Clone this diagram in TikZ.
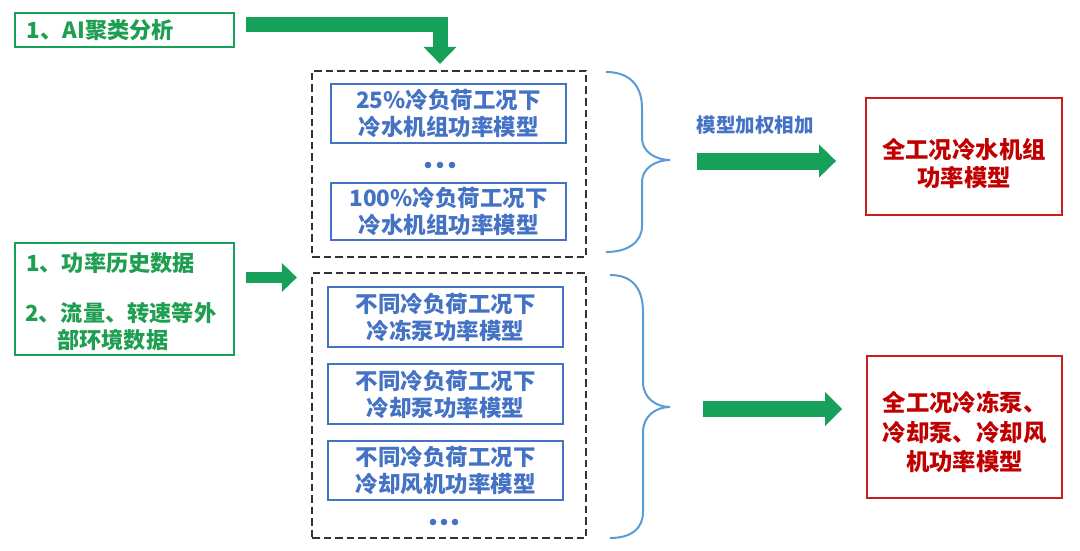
\documentclass[tikz,border=0pt]{standalone}
\usepackage{fontspec}
\setmainfont{Noto Sans CJK SC}
\usetikzlibrary{arrows.meta,calc}
\definecolor{gr}{RGB}{22,160,90}
\definecolor{grt}{RGB}{30,158,80}
\definecolor{bl}{RGB}{68,114,196}
\definecolor{br}{RGB}{91,155,213}
\definecolor{rd}{RGB}{192,0,0}
\definecolor{rdb}{RGB}{200,30,30}
\tikzset{
  greenbox/.style={draw=gr,line width=2pt,inner sep=0pt},
  greentext/.style={text=grt,font=\fontsize{22.2}{26}\selectfont\bfseries,inner sep=0pt},
  groupbox/.style={draw=black!80,line width=2.2pt,dash pattern=on 7.5pt off 4pt,minimum width=274pt,inner sep=0pt},
  modelbox/.style={draw=bl,line width=1.6pt,text=bl,minimum width=235pt,align=center,inner sep=0pt,
    font=\fontsize{22.5}{27}\selectfont\bfseries},
  redbox/.style={draw=rdb,line width=1.8pt,inner sep=0pt},
  redtext/.style={text=rd,align=center,inner sep=0pt,font=\fontsize{23.4}{28}\selectfont\bfseries},
  bracestyle/.style={draw=br,line width=2pt},
  fatarrow/.style={draw=gr,line width=#1,-{Triangle[length=17pt,width=32pt]}},
}
\begin{document}
\begin{tikzpicture}[x=1pt,y=-1pt]
\useasboundingbox (0,0) rectangle (1080,551);
% left inputs
\node[greenbox,greentext,minimum height=34pt,text width=195pt,inner xsep=12pt,align=left] (ai) at (124.5,30) {1、AI聚类分析};
\node[greenbox,minimum width=219pt,minimum height=112pt] (data) at (124.5,299) {};
\node[greentext,anchor=west] (d1) at (26,263) {1、功率历史数据};
\node[greentext,anchor=west] (d2) at (25,313) {2、流量、转速等外};
\node[greentext,anchor=west] (d3) at (57,340) {部环境数据};
% groups
\node[groupbox,minimum height=186pt] (g1) at (449,164) {};
\node[modelbox,minimum height=59pt] (m1) at (448.5,113.5) {25\%冷负荷工况下\\冷水机组功率模型};
\node[modelbox,minimum height=57pt] (m2) at (448.5,211.5) {100\%冷负荷工况下\\冷水机组功率模型};
\foreach \x in {428,440,452} \fill[bl] (\x,165) circle (3.3pt);
\node[groupbox,minimum height=265pt] (g2) at (449,405.5) {};
\node[modelbox,minimum height=60pt] (p1) at (445.5,317) {不同冷负荷工况下\\冷冻泵功率模型};
\node[modelbox,minimum height=60pt] (p2) at (445.5,394) {不同冷负荷工况下\\冷却泵功率模型};
\node[modelbox,minimum height=59pt] (p3) at (445.5,470.5) {不同冷负荷工况下\\冷却风机功率模型};
\foreach \x in {433,444,455} \fill[bl] (\x,522) circle (3.3pt);
% braces
\draw[bracestyle] (606,72) .. controls (628,72) and (642,84) .. (642,108) -- (642,138)
  .. controls (642,152) and (656,160) .. (670,160)
  .. controls (656,160) and (642,168) .. (642,182) -- (642,226)
  .. controls (642,242) and (628,252) .. (606,252);
\coordinate (b1tip) at (670,160);
\draw[bracestyle] (610,275) .. controls (632,275) and (643,288) .. (643,312) -- (643,382)
  .. controls (643,398) and (656,407) .. (670,407)
  .. controls (656,407) and (643,416) .. (643,432) -- (643,512)
  .. controls (643,528) and (632,538) .. (610,538);
\coordinate (b2tip) at (670,407);
% outputs
\node[redbox,minimum width=196pt,minimum height=117pt] (r1) at (964,156.5) {};
\node[redtext] (r1t) at ($(r1.center)+(0,7)$) {全工况冷水机组\\功率模型};
\node[redbox,minimum width=195pt,minimum height=142pt] (r2) at (964.5,427) {};
\node[redtext,font=\fontsize{23.4}{29.5}\selectfont\bfseries] (r2t) at ($(r2.center)+(0,5.5)$) {全工况冷冻泵、\\冷却泵、冷却风\\机功率模型};
\node[text=bl,inner sep=0pt,font=\fontsize{19.5}{22}\selectfont\bfseries] (lbl) at (755,125) {模型加权相加};
% arrows
\coordinate (a1) at (246,25);
\draw[fatarrow=15pt] (a1) -| ([xshift=-9pt,yshift=6pt]g1.north);
\coordinate (a3) at (246,277.5);
\draw[draw=gr,line width=11pt,-{Triangle[length=15pt,width=28pt]}] (a3) -- ([xshift=-14pt]a3 -| g1.west);
\draw[fatarrow=17pt] ([xshift=27pt,yshift=-1pt]b1tip) -- ([xshift=-29pt,yshift=-1pt]b1tip -| r1.west);
\draw[draw=gr,line width=16pt,-{Triangle[length=17pt,width=33pt]}] ([xshift=33pt,yshift=-2pt]b2tip) -- ([xshift=-24pt,yshift=-2pt]b2tip -| r2.west);
\end{tikzpicture}
\end{document}
